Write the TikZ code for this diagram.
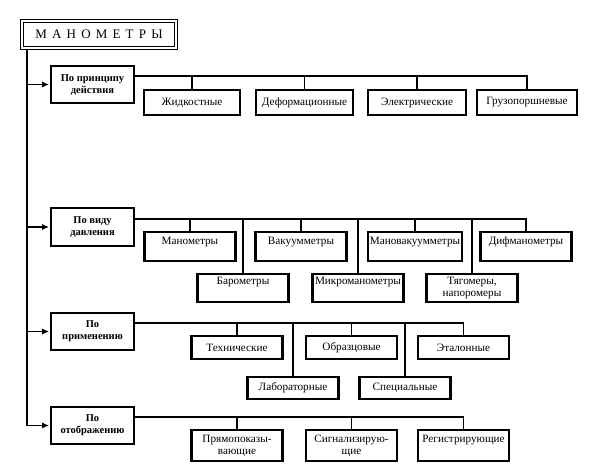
\documentclass[tikz,border=0pt]{standalone}
\usepackage{fontspec}
\setmainfont{Liberation Serif}
\usetikzlibrary{arrows.meta}
\begin{document}
\begin{tikzpicture}[x=1pt,y=-1pt,
 conn/.style={line width=1.8pt},
 arr/.style={line width=1.8pt,-{Latex[length=7pt,width=6pt]},shorten >=0.5pt},
 grp/.style={draw,line width=2.6pt,minimum width=83pt,minimum height=37pt,inner sep=1pt,align=center,font=\fontsize{10.5}{12}\selectfont\bfseries},
 cbox/.style={draw,line width=2.6pt,minimum width=91pt,inner sep=2pt,align=center,font=\fontsize{11.2}{12}\selectfont},
 topbox/.style 2 args={text height=#1,text depth=#2},
]
\useasboundingbox (0,0) rectangle (600,475);
\node[draw,double,line width=1.1pt,double distance=1.6pt,minimum width=154.4pt,minimum height=27.4pt,inner sep=0pt,font=\fontsize{13}{14}\selectfont\addfontfeature{LetterSpace=40}] (title) at (99,34.5) {МАНОМЕТРЫ};

% groups
\node[grp,minimum height=37pt] (g1) at (92.5,84.5) {По принципу\\действия};
\node[grp,minimum height=38pt] (g2) at (92.5,227) {По виду\\давления};
\node[grp,minimum height=37pt] (g3) at (92.5,331.5) {По\\применению};
\node[grp,minimum height=37pt] (g4) at (92.5,425.5) {По\\отображению};

% main line
\coordinate (v0) at ([xshift=6pt]title.south west);
\draw[arr] (v0) |- (g4.west);
\draw[arr] (v0 |- g1.west) -- (g1.west);
\draw[arr] (v0 |- g2.west) -- (g2.west);
\draw[arr] (v0 |- g3.west) -- (g3.west);

% group 1
\node[cbox,minimum width=96pt,minimum height=25pt] (a1) at (192,102.5) {Жидкостные};
\node[cbox,minimum width=97pt,minimum height=25pt] (a2) at (304.5,102.5) {Деформационные};
\node[cbox,minimum width=98pt,minimum height=25pt] (a3) at (417,102.5) {Электрические};
\node[cbox,minimum width=100pt,minimum height=25pt] (a4) at (527,102.5) {Грузопоршневые};
\coordinate (h1) at (g1.east |- 0,76);
\draw[conn] (h1) -- (h1 -| a4.north) -- (a4.north);
\foreach \n in {a1,a2,a3} \draw[conn] (h1 -| \n.north) -- (\n.north);

% group 2
\node[cbox,minimum height=29pt,topbox={10pt}{15pt}] (b1) at (190,246.5) {Манометры};
\node[cbox,minimum height=29pt,topbox={10pt}{15pt}] (b2) at (301,246.5) {Вакуумметры};
\node[cbox,minimum height=29pt,topbox={10pt}{15pt}] (b3) at (415,246.5) {Мановакуумметры};
\node[cbox,minimum height=29pt,topbox={10pt}{15pt}] (b4) at (526,246.5) {Дифманометры};
\node[cbox,minimum height=28pt,topbox={8pt}{16pt}] (c1) at (243,288) {Барометры};
\node[cbox,minimum height=28pt,topbox={8pt}{16pt}] (c2) at (358,288) {Микроманометры};
\node[cbox,minimum height=28pt,inner sep=1pt] (c3) at (472,288) {Тягомеры,\\напоромеры};
\coordinate (h2) at (g2.east |- 0,219);
\draw[conn] (h2) -- (h2 -| b4.north) -- (b4.north);
\foreach \n in {b1,b2,b3,c1,c2,c3} \draw[conn] (h2 -| \n.north) -- (\n.north);

% group 3
\node[cbox,minimum height=23pt] (d1) at (237,347.5) {Технические};
\node[cbox,minimum height=23pt] (d2) at (351.5,347.5) {Образцовые};
\node[cbox,minimum height=23pt] (d3) at (463.5,347.5) {Эталонные};
\node[cbox,minimum height=22pt] (e1) at (293,388) {Лабораторные};
\node[cbox,minimum height=22pt] (e2) at (405,388) {Специальные};
\coordinate (h3) at (g3.east |- 0,323);
\draw[conn] (h3) -- (h3 -| d3.north) -- (d3.north);
\foreach \n in {d1,d2,e1,e2} \draw[conn] (h3 -| \n.north) -- (\n.north);

% group 4
\node[cbox,minimum height=31pt,inner sep=1pt] (f1) at (237,445.5) {Прямопоказы-\\вающие};
\node[cbox,minimum height=31pt,inner sep=1pt] (f2) at (351.5,445.5) {Сигнализирую-\\щие};
\node[cbox,minimum height=31pt,topbox={10pt}{17pt}] (f3) at (463.5,445.5) {Регистрирующие};
\coordinate (h4) at (g4.east |- 0,417);
\draw[conn] (h4) -- (h4 -| f3.north) -- (f3.north);
\foreach \n in {f1,f2} \draw[conn] (h4 -| \n.north) -- (\n.north);
\end{tikzpicture}
\end{document}
